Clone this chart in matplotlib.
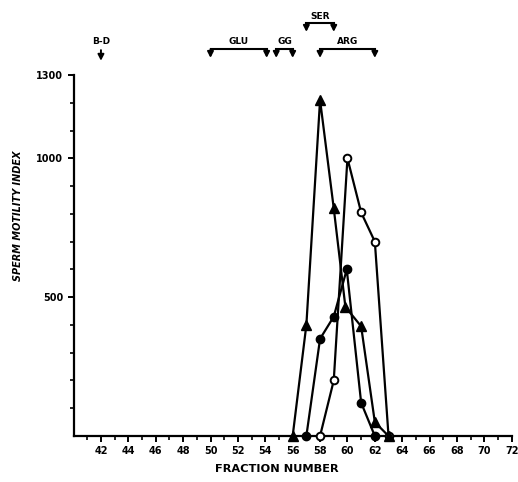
import matplotlib
matplotlib.use("Agg")
import matplotlib.pyplot as plt
from matplotlib.transforms import blended_transform_factory

# =============================================================================
# DADOS
# =============================================================================

frac_triangulo = [56, 57, 58, 59, 59.85, 61, 62, 63]
smi_triangulo = [0, 400, 1210, 820, 465, 395, 50, 0]

frac_aberto = [58, 59, 60, 61, 62, 63]
smi_aberto = [0, 200, 1000, 805, 700, 0]

frac_cheio = [57, 58, 59, 59.95, 61, 62]
smi_cheio = [0, 350, 430, 600, 120, 0]

# faixas de eluicao (nome, inicio, fim, nivel)
faixas_nome = ["GLU", "GG", "SER", "ARG"]
faixas_ini = [50, 54.8, 57, 58]
faixas_fim = [54.1, 56, 59, 62]
faixas_nivel = [0, 0, 1, 0]

marcador_bd = 42

# =============================================================================
# FIGURA
# =============================================================================

fig = plt.figure(figsize=(5.18, 4.82), dpi=100)
ax = fig.add_axes([0.142, 0.0954, 0.846, 0.749])

estilo = dict(color="black", linewidth=1.6, clip_on=False, zorder=3)
ax.plot(frac_aberto, smi_aberto, marker="o", markersize=5.5,
        markerfacecolor="white", markeredgecolor="black", markeredgewidth=1.4, **estilo)
ax.plot(frac_cheio, smi_cheio, marker="o", markersize=6,
        markerfacecolor="black", markeredgecolor="black", **estilo)
ax.plot(frac_triangulo, smi_triangulo, marker="^", markersize=7,
        markerfacecolor="black", markeredgecolor="black", **estilo)

ax.set_xlim(40, 72)
ax.set_ylim(0, 1300)

for lado in ["top", "right"]:
    ax.spines[lado].set_visible(False)
for lado in ["left", "bottom"]:
    ax.spines[lado].set_linewidth(1.6)

ax.set_xticks(range(42, 73, 2))
ax.set_xticks(range(41, 73), minor=True)
ax.set_yticks([500, 1000, 1300])
ax.set_yticks(range(100, 1301, 100), minor=True)
ax.tick_params(axis="both", which="major", direction="out", length=4, width=1.4,
               labelsize=7)
ax.tick_params(axis="both", which="minor", direction="out", length=3, width=1.2)
for t in ax.get_xticklabels() + ax.get_yticklabels():
    t.set_fontweight("bold")

fig.text(0.535, 0.028, "FRACTION NUMBER", ha="center", va="center",
         fontsize=8.2, fontweight="bold")
fig.text(0.034, 0.552, "SPERM MOTILITY INDEX", ha="center", va="center",
         rotation=90, fontsize=7, fontweight="bold", style="italic")

# =============================================================================
# ANOTACOES SUPERIORES
# =============================================================================

trans = blended_transform_factory(ax.transData, fig.transFigure)
seta = dict(arrowstyle="-|>,head_length=0.35,head_width=0.18", color="black",
            linewidth=1.4, shrinkA=0, shrinkB=0)

linha_y = [0.898, 0.952]
perna_y = [0.880, 0.934]
texto_y = [0.913, 0.966]

for nome, ini, fim, nivel in zip(faixas_nome, faixas_ini, faixas_fim, faixas_nivel):
    yl = linha_y[nivel]
    ax.plot([ini, fim], [yl, yl], color="black", linewidth=1.5,
            transform=trans, clip_on=False)
    for xx in [ini, fim]:
        ax.annotate("", xy=(xx, perna_y[nivel]), xytext=(xx, yl),
                    xycoords=trans, textcoords=trans, arrowprops=seta,
                    annotation_clip=False)
    ax.text((ini + fim) / 2, texto_y[nivel], nome, transform=trans,
            ha="center", va="center", fontsize=6.5, fontweight="bold")

ax.text(marcador_bd, 0.913, "B-D", transform=trans, ha="center", va="center",
        fontsize=6.5, fontweight="bold")
ax.annotate("", xy=(marcador_bd, 0.874), xytext=(marcador_bd, 0.896),
            xycoords=trans, textcoords=trans, arrowprops=seta,
            annotation_clip=False)

fig.savefig("out.png", dpi=100)
